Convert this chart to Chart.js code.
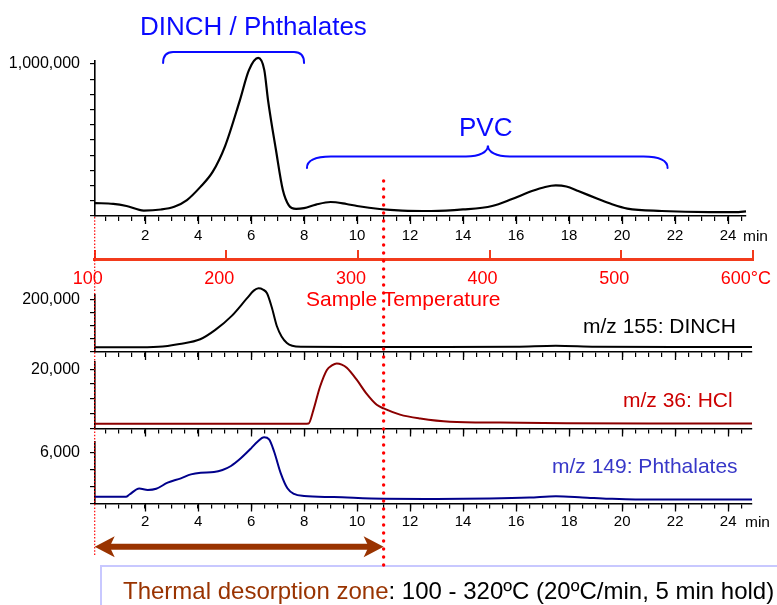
<!DOCTYPE html>
<html><head><meta charset="utf-8">
<script src="https://cdn.jsdelivr.net/npm/chart.js@4.4.1/dist/chart.umd.min.js"></script>
<style>
html,body{margin:0;padding:0;background:#fff;}
body{width:777px;height:605px;overflow:hidden;position:relative;font-family:"Liberation Sans",Arial,sans-serif;}
canvas{position:absolute;left:0;top:0;}
.t{position:absolute;white-space:nowrap;line-height:1;z-index:5;}
#box{position:absolute;left:100px;top:564.5px;width:720px;height:80px;box-sizing:border-box;border:2.5px solid #c8c8ff;z-index:4;}
#ov{z-index:10;pointer-events:none;}
</style></head><body>
<canvas id="cA" width="777" height="605"></canvas>
<canvas id="cB" width="777" height="605"></canvas>
<canvas id="cC" width="777" height="605"></canvas>
<canvas id="cD" width="777" height="605"></canvas>
<canvas id="cE" width="777" height="605"></canvas>
<div id="box"></div>
<canvas id="ov" width="777" height="605"></canvas>
<script>
// ---------------- DATA ----------------
const timeTickLabels = [2,4,6,8,10,12,14,16,18,20,22,24];
const tempTickLabels = [100,200,300,400,500,600];

const ticTime  = [0.11,0.8,1.3,1.95,2.6,3.1,3.58,4.08,4.55,5.02,5.58,5.92,6.27,6.5,6.64,6.94,7.2,7.42,7.7,8.0,8.45,9.0,9.6,10.0,10.85,11.7,12.8,14.0,15.1,15.85,16.6,17.1,17.5,17.9,18.35,19.1,19.6,20.2,21.5,23.3,24.4,24.68];
const ticValue = [85000,80000,66000,36000,43000,61000,105000,190000,290000,460000,763000,960000,1040000,960000,763000,434000,171000,72000,47000,52000,75000,92000,79000,66000,46000,36000,33000,43000,66000,112000,164000,191000,201000,194000,164000,112000,79000,49000,33000,26000,26000,30000];

const dinchTime  = [0.11,1.5,2.5,3.3,4.08,4.65,5.27,5.84,6.1,6.28,6.45,6.6,6.78,6.97,7.15,7.35,7.55,7.9,10,13,16,17.5,19,22,24.9];
const dinchValue = [18000,18000,20000,31000,49000,85000,139000,206000,236000,245000,240000,226000,172000,100000,60000,35000,24000,20000,19000,19000,20000,24000,20000,19000,19000];

const hclTime  = [0.11,4,8.0,8.17,8.35,8.6,8.86,9.05,9.23,9.42,9.61,9.99,10.37,10.74,11.0,11.62,12.38,13.5,15.4,17.9,21,24.9];
const hclValue = [1600,1600,1600,1700,6200,14100,19800,21300,22000,21600,20500,16400,11600,8000,6800,4700,3400,2300,2000,1750,1700,1700];

const phthTime  = [0.11,1.28,1.41,1.78,2.1,2.42,2.85,3.35,3.73,4.1,4.6,4.92,5.24,5.61,6.0,6.24,6.49,6.68,6.87,7.12,7.37,7.62,8.0,9.12,11.0,13,15,16.5,17.5,18.5,19.5,20.5,24.9];
const phthValue = [800,800,1060,1760,1590,1730,2450,2960,3430,3620,3700,3940,4410,5320,6490,7270,7790,7550,6090,3550,1790,1120,880,760,560,540,590,700,850,720,560,470,470];

// ---------------- HELPERS ----------------
const FONT = "'Liberation Sans', Arial, sans-serif";
const T_MIN = 0.11;
const minorTicks = []; for (let v = 0.5; v <= 24.5; v += 0.5) minorTicks.push(v);
const zip = (xs, ys) => xs.map((x, i) => ({x, y: ys[i]}));
const fmt = v => v.toLocaleString('en-US');

// longer tick marks at labelled minutes
const majorTickPlugin = {
  id: 'majorTicks',
  afterDraw(chart) {
    const s = chart.scales.x; if (!s || !chart.options.majorTicks) return;
    const c = chart.ctx; c.save(); c.strokeStyle = '#000'; c.lineWidth = 1.3;
    timeTickLabels.forEach(v => {
      const px = Math.round(s.getPixelForValue(v)) + 0.5;
      c.beginPath(); c.moveTo(px, s.top); c.lineTo(px, s.top + 8); c.stroke();
    });
    c.restore();
  }
};
Chart.register(majorTickPlugin);

function yAxis(max, ticks, labelVal) {
  return {
    type: 'linear', min: 0, max: max, position: 'left',
    afterBuildTicks: s => { s.ticks = ticks.map(v => ({value: v})); },
    afterFit: s => { s.width = 95; s.paddingTop = 0; s.paddingBottom = 0; },
    grid: {drawOnChartArea: false, drawTicks: true, tickLength: 5, color: '#000', lineWidth: 1.2},
    border: {display: true, color: '#000', width: 1.6},
    ticks: {padding: 10, color: '#000', autoSkip: false, font: {family: FONT, size: 16},
            callback: v => v === labelVal ? fmt(v) : ''}
  };
}
function xAxis(max, showLabels, height, padding) {
  return {
    type: 'linear', min: T_MIN, max: max, position: 'bottom',
    afterBuildTicks: s => { s.ticks = minorTicks.map(v => ({value: v})); },
    afterFit: s => { s.height = height; s.paddingLeft = 0; s.paddingRight = 0; },
    grid: {drawOnChartArea: false, drawTicks: true, tickLength: 5, color: '#000', lineWidth: 1.2},
    border: {display: true, color: '#000', width: 1.6},
    ticks: {display: showLabels, padding: padding, maxRotation: 0, autoSkip: false, color: '#000',
            font: {family: FONT, size: 15},
            callback: v => timeTickLabels.includes(v) ? String(v) : ''}
  };
}
function lineDs(xs, ys, color, w) {
  return {data: zip(xs, ys), borderColor: color, borderWidth: w, pointRadius: 0, fill: false,
          cubicInterpolationMode: 'monotone', clip: false};
}
function baseOpts(pad, scales) {
  return {responsive: false, animation: false, events: [], majorTicks: true,
          plugins: {legend: {display: false}, tooltip: {enabled: false}},
          layout: {padding: pad}, scales: scales};
}

// ---------------- CHARTS ----------------
const chartA = new Chart(document.getElementById('cA'), {
  type: 'line',
  data: {datasets: [lineDs(ticTime, ticValue, '#000', 2.2)]},
  options: baseOpts({left: 0, right: 31, top: 61, bottom: 355}, {
    x: xAxis(24.68, true, 34, 5.5),
    y: yAxis(1020000, [0,100000,200000,300000,400000,500000,600000,700000,800000,900000,1000000], 1000000)
  })
});

const TEMP_AXIS = '#f23b1c';
const optsB = baseOpts({left: 94.7, right: 24.2, top: 250, bottom: 315.5}, {
    x: {type: 'linear', min: 100, max: 600, position: 'bottom',
        afterBuildTicks: s => { s.ticks = tempTickLabels.map(v => ({value: v})); },
        afterFit: s => { s.height = 30; s.paddingLeft = 0; s.paddingRight = 0; },
        grid: {drawOnChartArea: true, drawTicks: false, color: TEMP_AXIS, lineWidth: 2},
        border: {display: true, color: TEMP_AXIS, width: 3},
        ticks: {padding: 9, labelOffset: -7, maxRotation: 0, autoSkip: false, color: '#ff0000',
                font: {family: FONT, size: 18},
                callback: v => v === 600 ? '600°C' : String(v)}},
    y: {display: false, min: 0, max: 1}
  });
optsB.majorTicks = false;
const chartB = new Chart(document.getElementById('cB'), {
  type: 'line', data: {datasets: []}, options: optsB
});

const chartC = new Chart(document.getElementById('cC'), {
  type: 'line',
  data: {datasets: [lineDs(dinchTime, dinchValue, '#000', 2)]},
  options: baseOpts({left: 0, right: 25, top: 295, bottom: 245}, {
    x: xAxis(24.9, false, 8, 0),
    y: yAxis(219230, [0,50000,100000,150000,200000], 200000)
  })
});

const chartD = new Chart(document.getElementById('cD'), {
  type: 'line',
  data: {datasets: [lineDs(hclTime, hclValue, '#8b0000', 2)]},
  options: baseOpts({left: 0, right: 25, top: 362, bottom: 168.5}, {
    x: xAxis(24.9, false, 8, 0),
    y: yAxis(22466, [0,5000,10000,15000,20000], 20000)
  })
});

const chartE = new Chart(document.getElementById('cE'), {
  type: 'line',
  data: {datasets: [lineDs(phthTime, phthValue, '#00008b', 2)]},
  options: baseOpts({left: 0, right: 25, top: 441.7, bottom: 69.5}, {
    x: xAxis(24.9, true, 32, 4.5),
    y: yAxis(7271, [0,2000,4000,6000], 6000)
  })
});

// ---------------- TEXT ----------------
function addText(html, left, baseline, size, color) {
  const d = document.createElement('div');
  d.className = 't';
  d.style.left = left + 'px';
  d.style.top = (baseline - 0.8465 * size) + 'px';
  d.style.fontSize = size + 'px';
  d.style.color = color;
  d.innerHTML = html;
  document.body.appendChild(d);
  return d;
}
const BLUE = '#0a0aff';
addText('DINCH / Phthalates', 140, 35, 26, BLUE);
addText('PVC', 459, 136, 26, BLUE);
addText('Sample Temperature', 306, 306, 21, '#ff0000');
addText('m/z 155: DINCH', 583, 333, 21, '#000');
addText('m/z 36: HCl', 623, 407, 21, '#cc0000');
addText('m/z 149: Phthalates', 552, 472.5, 21, '#3838c8');
addText('min', 743, 241.5, 15.5, '#000');
addText('min', 745, 527, 15.5, '#000');
addText('<span style="color:#993300">Thermal desorption zone</span>: 100 - 320ºC (20ºC/min, 5 min hold)', 123, 599, 24, '#000');

// ---------------- OVERLAY (annotations) ----------------
const ov = document.getElementById('ov').getContext('2d');
const xT = chartA.scales.x, xL = chartE.scales.x, xTemp = chartB.scales.x;
const x11 = xL.getPixelForValue(11);
const x0 = xTemp.getPixelForValue(100);

// thin dotted line at 100 °C
ov.strokeStyle = '#ff0000'; ov.lineWidth = 1.2; ov.setLineDash([1.5, 1.8]);
ov.beginPath(); ov.moveTo(x0, 217); ov.lineTo(x0, 557); ov.stroke();
ov.setLineDash([]);

// brown double arrow
const AY = 546.7, BROWN = '#993300';
ov.fillStyle = BROWN; ov.strokeStyle = BROWN;
ov.lineWidth = 6;
ov.beginPath(); ov.moveTo(x0 + 10, AY); ov.lineTo(x11 - 10, AY); ov.stroke();
function head(tip, dir) {
  ov.beginPath();
  ov.moveTo(tip, AY);
  ov.lineTo(tip - dir * 20, AY - 10.5);
  ov.lineTo(tip - dir * 15, AY);
  ov.lineTo(tip - dir * 20, AY + 10.5);
  ov.closePath(); ov.fill();
}
head(x0, -1); head(x11, 1);

// big dotted red line at 320 °C (11 min)
ov.fillStyle = '#ff0000';
for (let y = 181; y <= 568; y += 8) { ov.beginPath(); ov.arc(x11, y, 1.7, 0, Math.PI * 2); ov.fill(); }

// DINCH bracket
ov.strokeStyle = BLUE; ov.lineWidth = 2; ov.lineCap = 'round';
const b1 = xT.getPixelForValue(2.68), b2 = xT.getPixelForValue(8.0);
ov.beginPath();
ov.moveTo(b1, 63);
ov.quadraticCurveTo(b1, 52, b1 + 10, 52);
ov.lineTo(b2 - 10, 52);
ov.quadraticCurveTo(b2, 52, b2, 63);
ov.stroke();

// PVC curly brace
const p1 = xT.getPixelForValue(8.11), pm = xT.getPixelForValue(14.94), p2 = xT.getPixelForValue(21.72);
const hy = 156.5;
ov.beginPath();
ov.moveTo(p1, 168);
ov.bezierCurveTo(p1, 160, p1 + 8, hy, p1 + 24, hy);
ov.lineTo(pm - 22, hy);
ov.bezierCurveTo(pm - 8, hy, pm, 152, pm, 145.5);
ov.bezierCurveTo(pm, 152, pm + 8, hy, pm + 22, hy);
ov.lineTo(p2 - 24, hy);
ov.bezierCurveTo(p2 - 8, hy, p2, 160, p2, 168);
ov.stroke();
</script>
</body></html>
